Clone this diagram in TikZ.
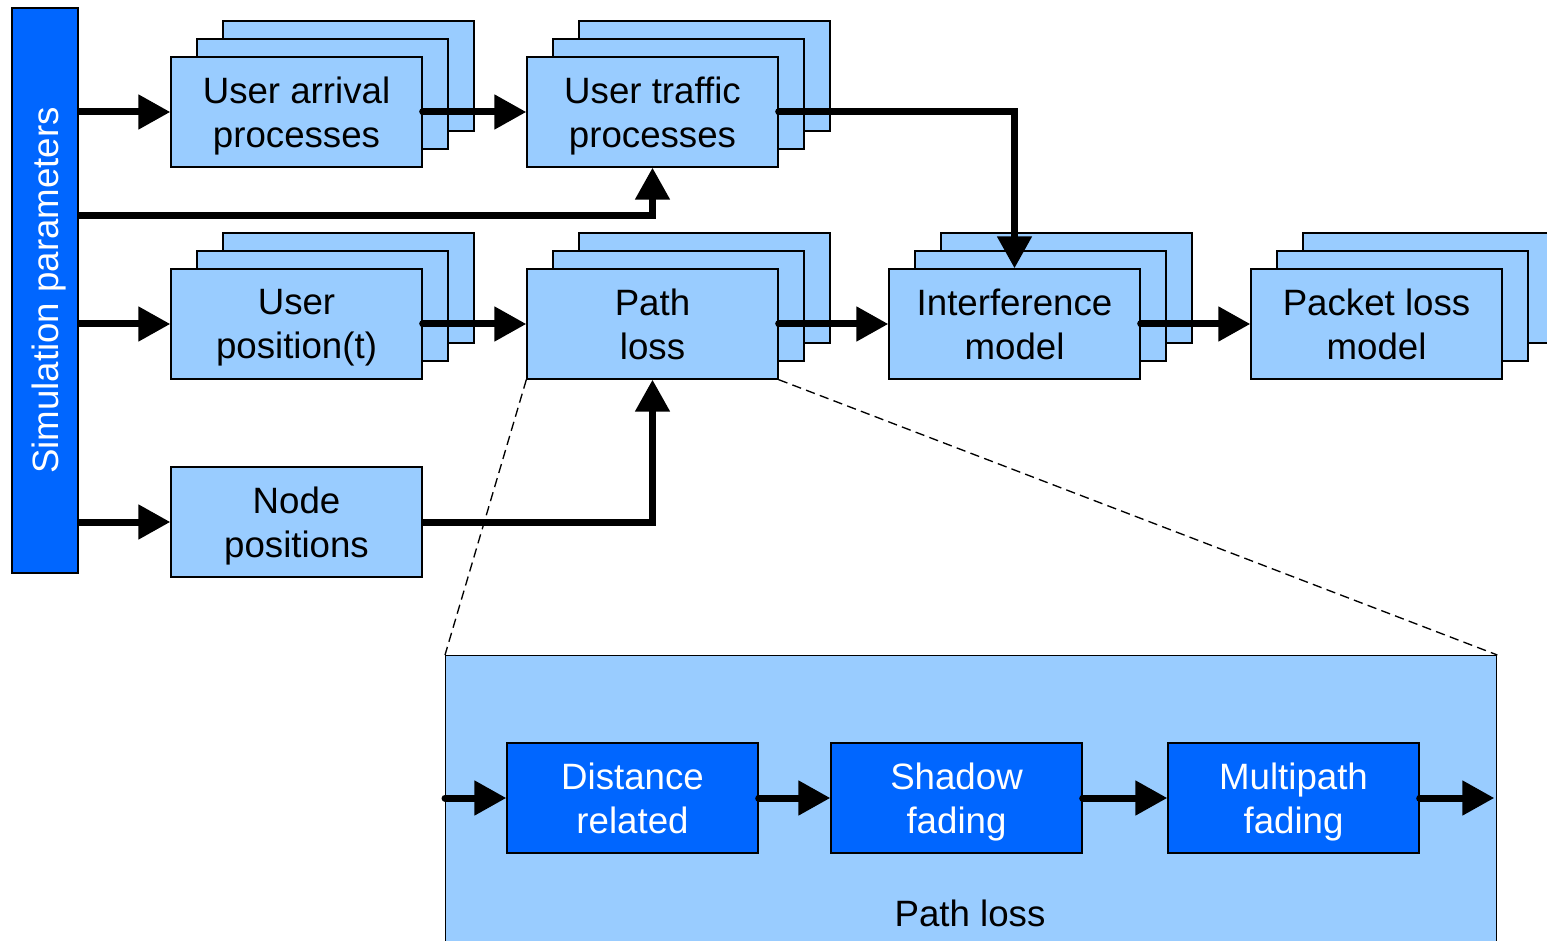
\documentclass[tikz,border=0pt]{standalone}
\usepackage{fontspec}
\setmainfont{Liberation Sans}
\usetikzlibrary{arrows.meta}
\definecolor{lightblue}{HTML}{99CCFF}
\definecolor{darkblue}{HTML}{0066FF}
\tikzset{
  block/.style={draw=black, line width=1pt, fill=lightblue, minimum width=188.25pt, minimum height=82.5pt, inner sep=0pt, text depth=-2pt, align=center, font=\fontsize{27.5}{33}\selectfont},
  darkblock/.style={block, fill=darkblue, text=white},
  flow/.style={line width=5.25pt, line cap=round, -{Triangle[length=24pt,width=25pt]}},
}
\begin{document}
\begin{tikzpicture}[x=0.75pt,y=0.75pt,yscale=-1,xscale=1]
\useasboundingbox (0,0) rectangle (1547,941);
\clip (0,0) rectangle (1547,941);

% Simulation parameters bar
\node[darkblock, rotate=90, minimum width=423.75pt, minimum height=49.5pt] (sim) at (45,290.5) {Simulation parameters};

% back copies of the stacked blocks
\foreach \n/\cx/\cy in {arrival/296.5/112, traffic/652.5/112, position/296.5/324, pathloss/652.5/324, interf/1014.5/324, pktloss/1376.5/324} {
  \node[block] (\n-3) at (\cx+52,\cy-36) {};
  \node[block] (\n-2) at (\cx+26,\cy-18) {};
}

% front blocks
\node[block] (arrival) at (296.5,112) {User arrival\\processes};
\node[block] (traffic) at (652.5,112) {User traffic\\processes};
\node[block] (position) at (296.5,324) {User\\position(t)};
\node[block] (pathloss) at (652.5,324) {Path\\loss};
\node[block] (nodepos) at (296.5,522) {Node\\positions};
\node[block] (interf) at (1014.5,324) {Interference\\model};
\node[block] (pktloss) at (1376.5,324) {Packet loss\\model};

% Path loss detail
\node[block, minimum width=788.25pt, minimum height=240pt, anchor=north west] (detail) at (445,655) {};
\node[darkblock] (dist) at (632.5,798) {Distance\\related};
\node[darkblock] (shadow) at (956.5,798) {Shadow\\fading};
\node[darkblock] (multi) at (1293.5,798) {Multipath\\fading};
\node[font=\fontsize{27.5}{33}\selectfont] (detaillabel) at (970,913) {Path loss};

\draw[line width=1pt, dash pattern=on 7pt off 4pt] (pathloss.south west) -- (detail.north west);
\draw[line width=1pt, dash pattern=on 7pt off 4pt] (pathloss.south east) -- (detail.north east);

% connections
\coordinate (tbend) at (652.5,216);
\draw[flow, line cap=butt] (arrival.west -| sim.south) -- (arrival.west);
\draw[flow, line cap=butt] (position.west -| sim.south) -- (position.west);
\draw[flow, line cap=butt] (nodepos.west -| sim.south) -- (nodepos.west);
\draw[flow, line cap=butt] (tbend -| sim.south) -- (tbend) -- (traffic.south);
\draw[flow] (arrival.east) -- (traffic.west);
\draw[flow] (position.east) -- (pathloss.west);
\draw[flow] (traffic.east) -| (interf.north);
\draw[flow, line cap=butt] (nodepos.east) -| (pathloss.south);
\draw[flow] (pathloss.east) -- (interf.west);
\draw[flow] (interf.east) -- (pktloss.west);

\draw[flow] (dist.west -| detail.west) -- (dist.west);
\draw[flow] (dist.east) -- (shadow.west);
\draw[flow] (shadow.east) -- (multi.west);
\draw[flow] (multi.east) -- ([xshift=-2.25pt]multi.east -| detail.east);
\end{tikzpicture}
\end{document}
